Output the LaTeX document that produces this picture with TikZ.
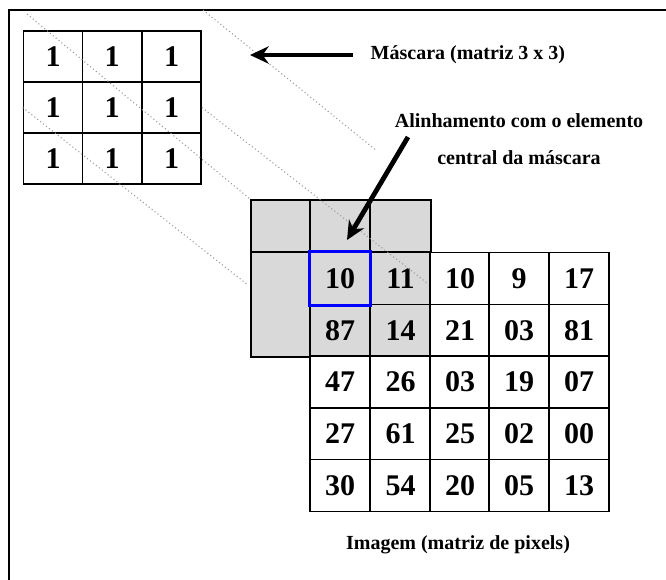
\documentclass[tikz,border=0pt]{standalone}
\usepackage{fontspec}
\setmainfont{Liberation Serif}
\usetikzlibrary{arrows.meta}
\definecolor{shade}{RGB}{217,217,217}
\begin{document}
\begin{tikzpicture}[x=0.75pt, y=-0.75pt]
      \tikzstyle{STY1} = [draw, rectangle, line width=1.3pt, inner sep=0pt, minimum width=44.25pt, minimum height=38.25pt, font=\fontsize{22.5}{27}\selectfont\bfseries]
      \tikzstyle{STY2} = [draw, rectangle, line width=1.2pt, inner sep=0pt, minimum width=45pt, minimum height=38.8pt, fill=white, font=\fontsize{22.5}{27}\selectfont\bfseries]
      \tikzstyle{STY3} = [draw, rectangle, line width=1.2pt, inner sep=0pt, fill=shade]
      \tikzstyle{STY4} = [line width=3.6pt, -{Stealth[length=14pt, width=13pt]}]
      \tikzstyle{STY5} = [gray!80, line width=0.8pt, dotted]
      \tikzstyle{STY6} = [font=\fontsize{15}{27.75}\selectfont\bfseries, align=center]

      \useasboundingbox (0,0) rectangle (666,579);
      \clip (0,0) rectangle (666,579);

      %%%%% FRAME
      \draw[line width=1.5pt] (9,600) -- (9,10) -- (700,10);

      %%%%% MASK
      \node[STY1](m1) at (53, 56.5) {1};
      \node[STY1](m2) at (112, 56.5) {1};
      \node[STY1](m3) at (171.5, 56.5) {1};

      \node[STY1](m4) at (53, 107.5) {1};
      \node[STY1](m5) at (112, 107.5) {1};
      \node[STY1](m6) at (171.5, 107.5) {1};

      \node[STY1](m7) at (53, 158.5) {1};
      \node[STY1](m8) at (112, 158.5) {1};
      \node[STY1](m9) at (171.5, 158.5) {1};

      %%%%% SHADED MASK OVER THE IMAGE
      \node[STY3, minimum width=44.25pt, minimum height=39pt](s1) at (280.5, 226) {};
      \node[STY3, minimum width=45pt, minimum height=39pt](s2) at (340, 226) {};
      \node[STY3, minimum width=45.75pt, minimum height=39pt](s3) at (400.5, 226) {};
      \node[STY3, minimum width=44.25pt, minimum height=78.75pt](s4) at (280.5, 304.5) {};

      %%%%% IMAGE
      \node[STY2, fill=shade](p1) at (340, 278.5) {10};
      \node[STY2, fill=shade](p2) at (400.5, 278.5) {11};
      \node[STY2](p3) at (460, 278.5) {10};
      \node[STY2](p4) at (519, 278.5) {9};
      \node[STY2](p5) at (579, 278.5) {17};

      \node[STY2, fill=shade](p6) at (340, 330.25) {87};
      \node[STY2, fill=shade](p7) at (400.5, 330.25) {14};
      \node[STY2](p8) at (460, 330.25) {21};
      \node[STY2](p9) at (519, 330.25) {03};
      \node[STY2](p10) at (579, 330.25) {81};

      \node[STY2](p11) at (340, 382) {47};
      \node[STY2](p12) at (400.5, 382) {26};
      \node[STY2](p13) at (460, 382) {03};
      \node[STY2](p14) at (519, 382) {19};
      \node[STY2](p15) at (579, 382) {07};

      \node[STY2](p16) at (340, 433.75) {27};
      \node[STY2](p17) at (400.5, 433.75) {61};
      \node[STY2](p18) at (460, 433.75) {25};
      \node[STY2](p19) at (519, 433.75) {02};
      \node[STY2](p20) at (579, 433.75) {00};

      \node[STY2](p21) at (340, 485.5) {30};
      \node[STY2](p22) at (400.5, 485.5) {54};
      \node[STY2](p23) at (460, 485.5) {20};
      \node[STY2](p24) at (519, 485.5) {05};
      \node[STY2](p25) at (579, 485.5) {13};

      % central element
      \draw[blue, line width=2.4pt] (p1.north west) rectangle (p1.south east);

      %%%%% PROJECTION LINES
      \coordinate (d1) at (27, 14);
      \coordinate (d2) at (203, 10);
      \coordinate (d3) at (377, 151);
      \coordinate (d4) at (248, 285);
      \coordinate (d5) at (427, 283);
      \draw[STY5] (d1) -- (s1.north west);
      \draw[STY5] (d2) -- (d3);
      \draw[STY5] (m4.west) -- (d4);
      \draw[STY5] (m6.east) -- (d5);

      %%%%% LABELS
      \node[STY6, anchor=west](lmask) at (366, 55) {Máscara (matriz 3 x 3)};
      \node[STY6](lcenter) at (519, 139) {Alinhamento com o elemento\\central da máscara};
      \node[STY6](limage) at (458, 545) {Imagem (matriz de pixels)};

      %%%%% ARROWS
      \coordinate (t1) at (250, 55);
      \coordinate (a2) at (408, 137);
      \coordinate (t2) at (347, 240);
      \draw[STY4, shorten <=10pt] (lmask.west) -- (t1);
      \draw[STY4] (a2) -- (t2);
    \end{tikzpicture}
\end{document}
